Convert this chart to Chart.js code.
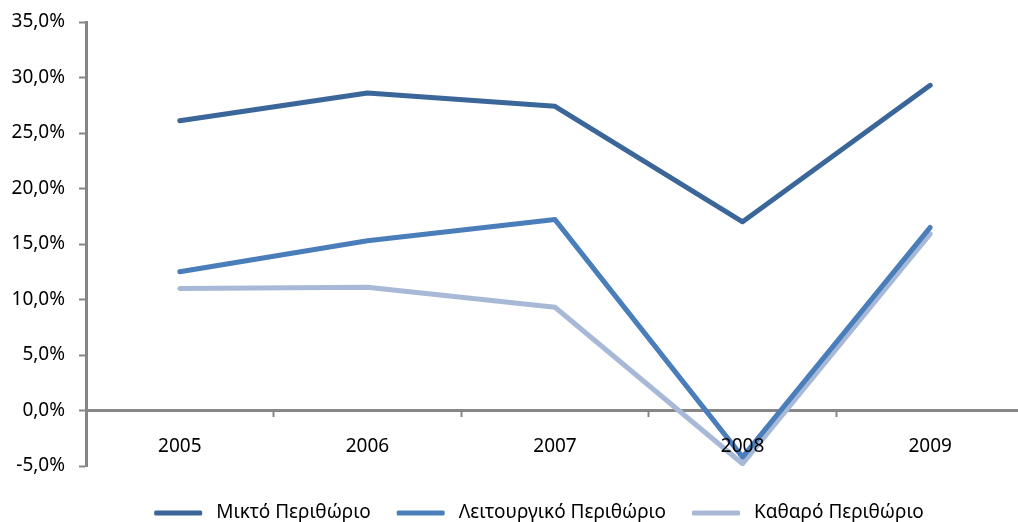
<!DOCTYPE html>
<html>
<head>
<meta charset="utf-8">
<script src="https://cdn.jsdelivr.net/npm/chart.js@4"></script>
<style>
  html, body { margin: 0; padding: 0; background: #fff; overflow: hidden; }
  #wrap { position: relative; width: 1026px; height: 522px; }
</style>
</head>
<body>
<div id="wrap"><canvas id="c"></canvas></div>
<script>
// Margin series (%) per year
const years = ['2005', '2006', '2007', '2008', '2009'];
const grossMargin = [26.1, 28.6, 27.4, 17.0, 29.3];
const operatingMargin = [12.5, 15.3, 17.2, -4.2, 16.5];
const netMargin = [11.0, 11.1, 9.3, -4.8, 15.9];
const seriesNames = ['Μικτό Περιθώριο', 'Λειτουργικό Περιθώριο', 'Καθαρό Περιθώριο'];
const seriesColors = ['#3b6699', '#4a7ebb', '#a7b9d6'];
const yTicks = [-5, 0, 5, 10, 15, 20, 25, 30, 35];

const axisGrey = '#868686';
const fontFamily = "'Noto Sans', 'DejaVu Sans', sans-serif";
const tickFont = { family: fontFamily, size: 19 };

function lineSet(label, data, color) {
  return {
    label, data,
    borderColor: color,
    backgroundColor: color,
    borderWidth: 5,
    pointRadius: 0,
    pointHoverRadius: 0,
    tension: 0,
    borderJoinStyle: 'round',
    borderCapStyle: 'round',
    fill: false
  };
}

// Legend row under the plot: a short thick line swatch followed by the series name
const bottomLegend = {
  id: 'bottomLegend',
  afterDraw(chart) {
    const ctx = chart.ctx;
    const swatchW = 48, swatchH = 5, textGap = 14, itemGap = 26;
    const centerX = 539, y = 513;
    ctx.save();
    ctx.font = `19px ${fontFamily}`;
    ctx.textBaseline = 'middle';
    const items = chart.data.datasets.map(ds => ({
      label: ds.label, color: ds.borderColor, w: ctx.measureText(ds.label).width
    }));
    const total = items.reduce((s, it) => s + swatchW + textGap + it.w, 0) + itemGap * (items.length - 1);
    let x = centerX - total / 2;
    items.forEach(it => {
      ctx.fillStyle = it.color;
      ctx.beginPath();
      ctx.roundRect(x, y - swatchH / 2, swatchW, swatchH, 1.5);
      ctx.fill();
      x += swatchW + textGap;
      ctx.fillStyle = '#000';
      ctx.fillText(it.label, x, y);
      x += it.w + itemGap;
    });
    ctx.restore();
  }
};

new Chart(document.getElementById('c'), {
  type: 'line',
  data: {
    labels: years,
    datasets: [
      lineSet(seriesNames[0], grossMargin, seriesColors[0]),
      lineSet(seriesNames[1], operatingMargin, seriesColors[1]),
      lineSet(seriesNames[2], netMargin, seriesColors[2])
    ]
  },
  plugins: [bottomLegend],
  options: {
    responsive: true,
    maintainAspectRatio: false,
    animation: false,
    layout: { padding: { top: 22, right: 2, bottom: 56, left: 0 } },
    plugins: {
      tooltip: { enabled: false },
      legend: { display: false }
    },
    scales: {
      x: {
        type: 'category',
        position: { y: 0 },
        offset: true,
        border: { display: true, color: axisGrey, width: 3, z: 0 },
        grid: {
          display: true,
          offset: true,
          drawOnChartArea: false,
          drawTicks: true,
          tickLength: 5,
          tickWidth: 2,
          tickColor: axisGrey
        },
        ticks: {
          font: tickFont,
          color: '#000',
          padding: 20,
          maxRotation: 0,
          z: 1
        }
      },
      y: {
        min: -5,
        max: 35,
        afterBuildTicks(scale) {
          scale.ticks = yTicks.map(v => ({ value: v }));
        },
        afterFit(scale) {
          scale.width = 86;
          scale.paddingTop = 0;
          scale.paddingBottom = 0;
        },
        border: { display: true, color: axisGrey, width: 3 },
        grid: {
          display: true,
          drawOnChartArea: false,
          drawTicks: true,
          tickLength: 7,
          tickWidth: 2,
          tickColor: axisGrey
        },
        ticks: {
          font: tickFont,
          color: '#000',
          padding: 14,
          callback: v => v.toFixed(1).replace('.', ',') + '%'
        }
      }
    }
  }
});
</script>
</body>
</html>
